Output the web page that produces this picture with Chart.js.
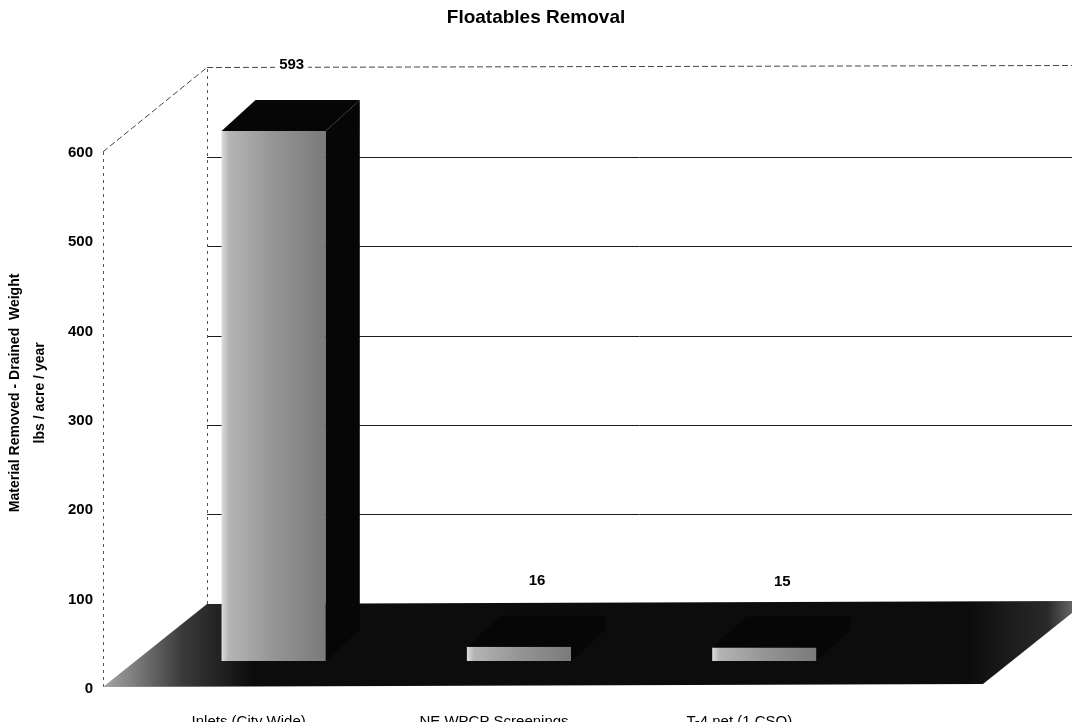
<!DOCTYPE html>
<html>
<head>
<meta charset="utf-8">
<script src="https://cdn.jsdelivr.net/npm/chart.js@4.4.1/dist/chart.umd.min.js"></script>
<style>
  html, body { margin: 0; padding: 0; background: #ffffff; }
  #wrap { width: 1072px; height: 728px; }
</style>
</head>
<body>
<div id="wrap"><canvas id="c" width="1072" height="728"></canvas></div>
<script>
// ---- data ----
const categories = ['Inlets (City Wide)', 'NE WPCP Screenings', 'T-4 net (1 CSO)'];
const removedLbsPerAcreYear = [593, 16, 15];
const yTickValues = [0, 100, 200, 300, 400, 500, 600];
const wallTopValue = 700;
const chartTitle = 'Floatables Removal';
const yAxisTitle = ['Material Removed - Drained  Weight', 'lbs / acre / year'];

// ---- styling constants (pixels) ----
const FONT = "'Liberation Sans', Arial, Helvetica, sans-serif";
const BAR_FRACTION = 0.425;
const BAR_DX = 34, BAR_DY = 31;          // depth of the bar's top/side faces
const FLOOR_DX = 104, FLOOR_DY = 83;     // depth of the floor
const FRONT_DY = 26;                     // floor front edge below bar base
const WALL_SHIFT = 32;                   // back wall grid relative to bar plane

Chart.defaults.font.family = FONT;

const threeD = {
  id: 'threeD',
  beforeDatasetsDraw(chart) {
    const { ctx, chartArea, scales } = chart;
    const y = scales.y;
    const base = y.getPixelForValue(0);
    const W = chart.width;
    const FL = [chartArea.left - 48, base + FRONT_DY];
    const FR = [chartArea.right + 96, base + FRONT_DY - 3];
    const BL = [FL[0] + FLOOR_DX, FL[1] - FLOOR_DY];
    const BR = [FR[0] + FLOOR_DX, FR[1] - FLOOR_DY];
    ctx.save();
    // back wall gridlines
    ctx.strokeStyle = '#1a1a1a';
    ctx.lineWidth = 1;
    yTickValues.forEach(v => {
      if (v === 0) return;
      const py = Math.round(y.getPixelForValue(v) + WALL_SHIFT) + 0.5;
      ctx.beginPath(); ctx.moveTo(BL[0], py); ctx.lineTo(W, py); ctx.stroke();
    });
    // wall top edge (dashed)
    const topY = Math.round(y.getPixelForValue(wallTopValue) + WALL_SHIFT) + 0.5;
    const frontTopY = y.getPixelForValue(yTickValues[yTickValues.length - 1]) + FRONT_DY + 1;
    ctx.setLineDash([6, 3]);
    ctx.strokeStyle = '#444';
    ctx.beginPath(); ctx.moveTo(BL[0], topY); ctx.lineTo(W, topY - 2); ctx.stroke();
    ctx.beginPath(); ctx.moveTo(FL[0], frontTopY); ctx.lineTo(BL[0], topY); ctx.stroke();
    // left wall edges (dotted)
    ctx.setLineDash([3, 4]);
    ctx.strokeStyle = '#555';
    ctx.beginPath(); ctx.moveTo(FL[0] + 0.5, FL[1]); ctx.lineTo(FL[0] + 0.5, frontTopY); ctx.stroke();
    ctx.beginPath(); ctx.moveTo(BL[0] + 0.5, BL[1]); ctx.lineTo(BL[0] + 0.5, topY); ctx.stroke();
    ctx.setLineDash([]);
    // floor
    const g = ctx.createLinearGradient(FL[0], 0, BR[0], 0);
    const span = BR[0] - FL[0];
    g.addColorStop(0, '#a8a8a8');
    g.addColorStop(Math.min(1, 80 / span), '#3a3a3a');
    g.addColorStop(Math.min(1, 150 / span), '#0c0c0c');
    g.addColorStop(0.88, '#0c0c0c');
    g.addColorStop(0.96, '#2a2a2a');
    g.addColorStop(1, '#8a8a8a');
    ctx.fillStyle = g;
    ctx.beginPath();
    ctx.moveTo(FL[0], FL[1]); ctx.lineTo(FR[0], FR[1]);
    ctx.lineTo(BR[0], BR[1]); ctx.lineTo(BL[0], BL[1]);
    ctx.closePath(); ctx.fill();
    ctx.restore();
  },
  afterDatasetsDraw(chart) {
    const { ctx } = chart;
    const meta = chart.getDatasetMeta(0);
    const data = chart.data.datasets[0].data;
    ctx.save();
    meta.data.forEach((bar, i) => {
      const { x, y, base, width } = bar.getProps(['x', 'y', 'base', 'width'], true);
      const l = x - width / 2, r = x + width / 2;
      ctx.fillStyle = '#060606';
      ctx.beginPath();
      ctx.moveTo(l, y); ctx.lineTo(l + BAR_DX, y - BAR_DY);
      ctx.lineTo(r + BAR_DX, y - BAR_DY); ctx.lineTo(r, y);
      ctx.closePath(); ctx.fill();
      ctx.beginPath();
      ctx.moveTo(r, y); ctx.lineTo(r + BAR_DX, y - BAR_DY);
      ctx.lineTo(r + BAR_DX, base - BAR_DY); ctx.lineTo(r, base);
      ctx.closePath(); ctx.fill();
      // value label
      const txt = String(data[i]);
      ctx.font = 'bold 15px ' + FONT;
      ctx.textAlign = 'center';
      ctx.textBaseline = 'middle';
      const lx = x + 18, ly = y - 66;
      const tw = ctx.measureText(txt).width;
      ctx.fillStyle = '#ffffff';
      ctx.fillRect(lx - tw / 2 - 4, ly - 8, tw + 8, 16);
      ctx.fillStyle = '#000000';
      ctx.fillText(txt, lx, ly);
    });
    ctx.restore();
  }
};

new Chart(document.getElementById('c'), {
  type: 'bar',
  data: {
    labels: categories,
    datasets: [{
      label: 'Floatables removed',
      data: removedLbsPerAcreYear,
      barPercentage: 1,
      categoryPercentage: BAR_FRACTION,
      borderWidth: 0,
      backgroundColor(c) {
        const ch = c.chart;
        const xs = ch.scales && ch.scales.x;
        if (!xs || !ch.chartArea) return '#9a9a9a';
        const cx = xs.getPixelForValue(c.dataIndex);
        const half = xs.width / categories.length * BAR_FRACTION / 2;
        const g = ch.ctx.createLinearGradient(cx - half, 0, cx + half, 0);
        g.addColorStop(0, '#dcdcdc');
        g.addColorStop(0.07, '#b4b4b4');
        g.addColorStop(0.5, '#959595');
        g.addColorStop(1, '#7a7a7a');
        return g;
      }
    }]
  },
  options: {
    responsive: false,
    animation: false,
    events: [],
    layout: { padding: 0 },
    plugins: {
      legend: { display: false },
      tooltip: { enabled: false },
      title: {
        display: true,
        text: chartTitle,
        color: '#000',
        font: { family: FONT, size: 19, weight: 'bold' },
        padding: { top: 6, bottom: 96 }
      }
    },
    scales: {
      x: {
        type: 'category',
        offset: true,
        grid: { display: false },
        border: { display: false },
        ticks: {
          color: '#000',
          font: { family: FONT, size: 15 },
          padding: 44,
          labelOffset: -25,
          maxRotation: 0,
          autoSkip: false
        },
        afterFit(s) { s.height = 61; }
      },
      y: {
        min: 0,
        max: 600,
        grid: { display: false, drawTicks: false },
        border: { display: false },
        ticks: {
          stepSize: 100,
          color: '#000',
          font: { family: FONT, size: 15, weight: 'bold' },
          padding: 58,
          labelOffset: 28
        },
        title: {
          display: true,
          text: yAxisTitle,
          color: '#000',
          font: { family: FONT, size: 14, weight: 'bold', lineHeight: 1.75 },
          padding: { top: 3, bottom: 0 }
        },
        afterFit(s) { s.width = 151; }
      },
      yRight: {
        position: 'right',
        min: 0,
        max: 600,
        display: true,
        grid: { display: false, drawTicks: false },
        border: { display: false },
        ticks: { display: false },
        afterFit(s) { s.width = 185; }
      }
    }
  },
  plugins: [threeD]
});
</script>
</body>
</html>
